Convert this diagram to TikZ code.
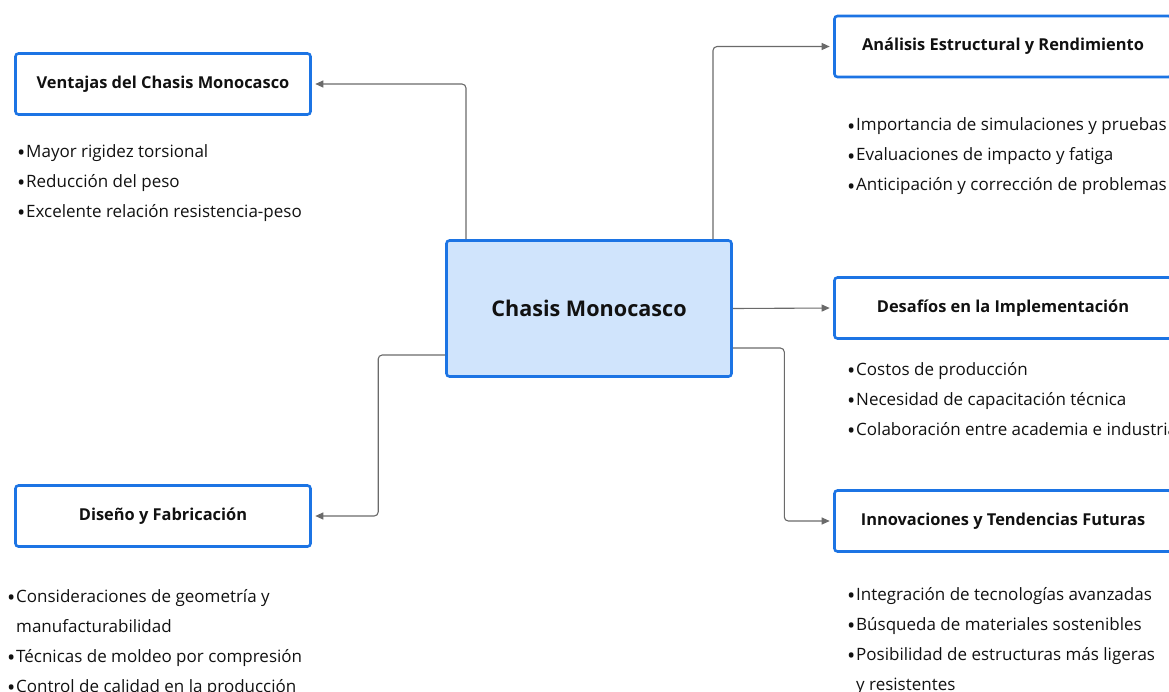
\documentclass[tikz,border=0pt]{standalone}
\usepackage{fontspec}
\setmainfont{Open Sans}
\usetikzlibrary{arrows.meta}
\definecolor{boxblue}{HTML}{1C74E4}
\definecolor{corefill}{HTML}{D0E4FC}
\definecolor{linkgray}{HTML}{6A6A6A}
\definecolor{ink}{HTML}{111111}
\tikzset{
  x=1pt, y=-1pt,
  topic/.style={draw=boxblue, line width=2.6pt, rounded corners=3pt, fill=white,
    inner sep=0pt, minimum height=61pt, text=ink,
    font=\bfseries\fontsize{16.4}{19}\selectfont},
  core/.style={topic, fill=corefill, minimum width=285pt, minimum height=136pt,
    font=\bfseries\fontsize{21.6}{25}\selectfont},
  item/.style={anchor=base west, inner sep=0pt, text=ink,
    font=\fontsize{17}{20}\selectfont},
  link/.style={draw=linkgray, line width=1.1pt, rounded corners=4pt,
    -{Triangle[length=8pt,width=7pt]}, shorten >=3.5pt}
}
\newcommand{\bul}{\makebox[0pt][r]{\raisebox{-3.6pt}{\fontsize{22}{22}\selectfont •}\hspace{0.8pt}}}
\begin{document}
\begin{tikzpicture}
\useasboundingbox (0,0) rectangle (1169,691);
\clip (0,0) rectangle (1169,691);

% central topic
\node[core] (core) at (589,308.5) {Chasis Monocasco};

% left branches
\node[topic, minimum width=295pt] (ventajas) at (163,84) {Ventajas del Chasis Monocasco};
\node[topic, minimum width=295pt] (diseno) at (163,516) {Diseño y Fabricación};

% right branches (wider boxes running past the right edge)
\node[topic, minimum width=337pt] (analisis) at (1003,46.5) {Análisis Estructural y Rendimiento};
\node[topic, minimum width=337pt] (desafios) at (1003,308) {Desafíos en la Implementación};
\node[topic, minimum width=337pt] (innov) at (1003,521) {Innovaciones y Tendencias Futuras};

% connectors
\draw[link] ([xshift=-123pt]core.north) |- (ventajas.east);
\draw[link] ([xshift=124pt]core.north) |- (analisis.west);
\draw[link] (core.east) -- (desafios.west);
\draw[link] ([yshift=-39.5pt]core.east) -- ++(51.5,0) |- (innov.west);
\draw[link] ([yshift=-46.5pt]core.west) -- ++(-67,0) |- (diseno.east);

% bullet lists
\node[item] (v1) at (26,157) {\bul Mayor rigidez torsional};
\node[item] (v2) at (26,187) {\bul Reducción del peso};
\node[item] (v3) at (26,217) {\bul Excelente relación resistencia-peso};

\node[item] (a1) at (856,130.5) {\bul Importancia de simulaciones y pruebas};
\node[item] (a2) at (856,160.5) {\bul Evaluaciones de impacto y fatiga};
\node[item] (a3) at (856,190.5) {\bul Anticipación y corrección de problemas};

\node[item] (d1) at (856,375) {\bul Costos de producción};
\node[item] (d2) at (856,405) {\bul Necesidad de capacitación técnica};
\node[item] (d3) at (856,435) {\bul Colaboración entre academia e industria};

\node[item] (i1) at (856,600) {\bul Integración de tecnologías avanzadas};
\node[item] (i2) at (856,630) {\bul Búsqueda de materiales sostenibles};
\node[item] (i3) at (856,660) {\bul Posibilidad de estructuras más ligeras};
\node[item] (i4) at (856,690) {y resistentes};

\node[item] (f1) at (16,602) {\bul Consideraciones de geometría y};
\node[item] (f2) at (16,632) {manufacturabilidad};
\node[item] (f3) at (16,662) {\bul Técnicas de moldeo por compresión};
\node[item] (f4) at (16,692) {\bul Control de calidad en la producción};
\end{tikzpicture}
\end{document}
